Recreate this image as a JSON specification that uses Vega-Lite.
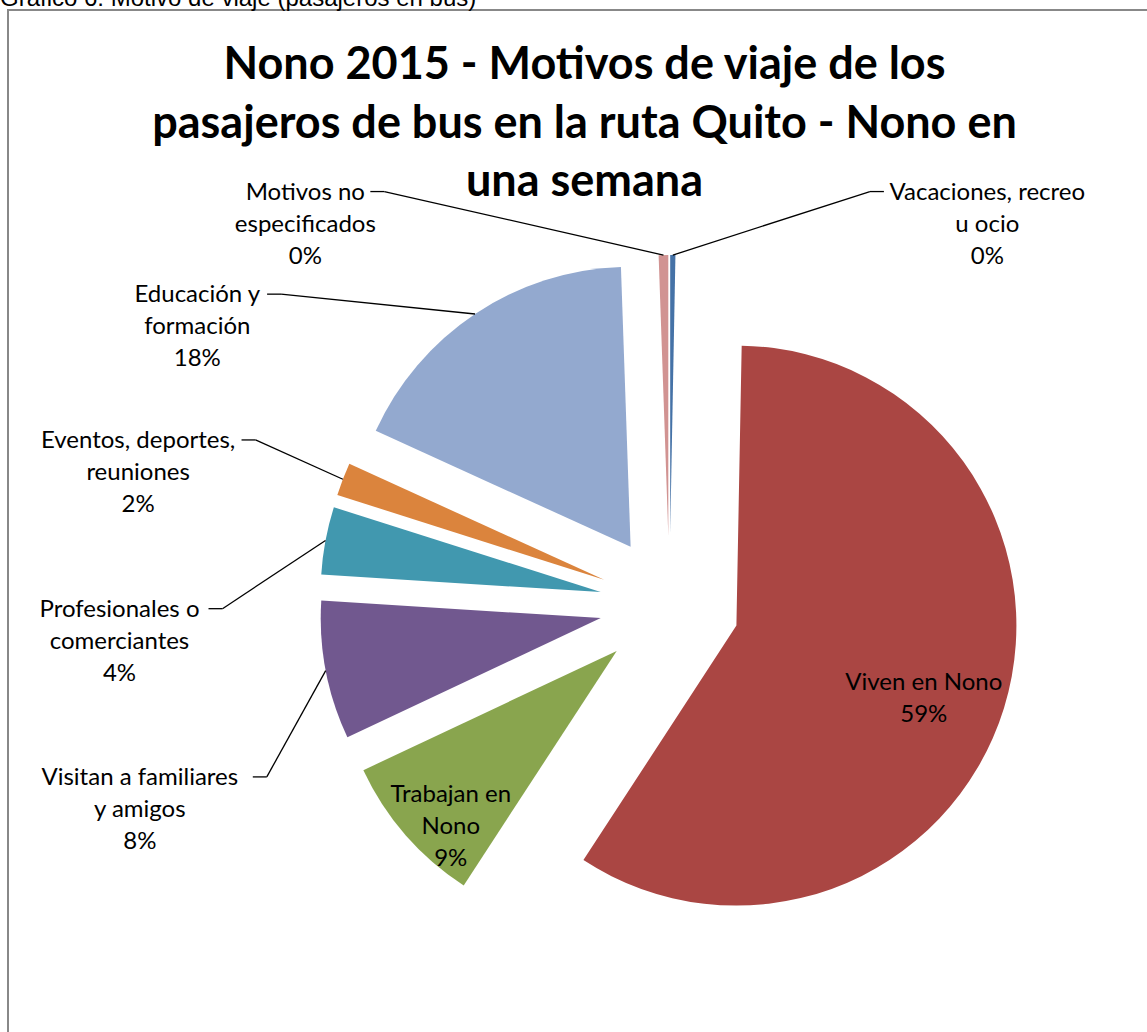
{
  "$schema": "https://vega.github.io/schema/vega-lite/v6.json",
  "width": 1141,
  "height": 1024,
  "autosize": {"type": "none"},
  "padding": {"left": 8, "top": 10, "right": -2, "bottom": -2},
  "background": "white",
  "params": [
    {"name": "cx", "expr": "width/2 + 91"},
    {"name": "cy", "expr": "height/2 + 83"}
  ],
  "title": {
    "text": ["Nono 2015 - Motivos de viaje de los", "pasajeros de bus en la ruta Quito - Nono en", "una semana"],
    "anchor": "middle",
    "frame": "group",
    "offset": -218,
    "dx": 6,
    "font": "Lato",
    "fontSize": 45,
    "fontWeight": "bold",
    "color": "#000000",
    "lineHeight": 58.5
  },
  "data": {
    "values": [
      {"motivo": "Vacaciones, recreo u ocio", "valor": 0.0030, "orden": 1, "etiqueta": "Vacaciones, recreo\nu ocio\n0%"},
      {"motivo": "Viven en Nono", "valor": 0.5890, "orden": 2, "etiqueta": "Viven en Nono\n59%"},
      {"motivo": "Trabajan en Nono", "valor": 0.0880, "orden": 3, "etiqueta": "Trabajan en\nNono\n9%"},
      {"motivo": "Visitan a familiares y amigos", "valor": 0.0800, "orden": 4, "etiqueta": "Visitan  a familiares\ny amigos\n8%"},
      {"motivo": "Profesionales o comerciantes", "valor": 0.0390, "orden": 5, "etiqueta": "Profesionales o\ncomerciantes\n4%"},
      {"motivo": "Eventos, deportes, reuniones", "valor": 0.0190, "orden": 6, "etiqueta": "Eventos, deportes,\nreuniones\n2%"},
      {"motivo": "Educación y formación", "valor": 0.1765, "orden": 7, "etiqueta": "Educación y\nformación\n18%"},
      {"motivo": "Motivos no especificados", "valor": 0.0055, "orden": 8, "etiqueta": "Motivos no\nespecificados\n0%"}
    ]
  },
  "transform": [
    {"window": [{"op": "sum", "field": "valor", "as": "acum"}], "sort": [{"field": "orden", "order": "ascending"}], "frame": [null, 0]},
    {"joinaggregate": [{"op": "count", "as": "n"}]}
  ],
  "layer": [
    {
      "mark": {
        "type": "arc",
        "outerRadius": 280,
        "x": {"expr": "cx + 70*sin(2*PI*(datum.acum - datum.valor/2))"},
        "y": {"expr": "cy - 70*cos(2*PI*(datum.acum - datum.valor/2))"}
      },
      "encoding": {
        "theta": {"field": "valor", "type": "quantitative", "stack": true},
        "order": {"field": "orden", "type": "quantitative"},
        "color": {
          "field": "motivo",
          "type": "nominal",
          "scale": {
            "domain": ["Vacaciones, recreo u ocio", "Viven en Nono", "Trabajan en Nono", "Visitan a familiares y amigos", "Profesionales o comerciantes", "Eventos, deportes, reuniones", "Educación y formación", "Motivos no especificados"],
            "range": ["#4572A7", "#AA4643", "#89A54E", "#71588F", "#4198AF", "#DB843D", "#93A9CF", "#D19392"]
          },
          "legend": {
            "title": "Gráfico 6: Motivo de viaje (pasajeros en bus)",
            "orient": "none",
            "legendX": -8,
            "legendY": -23,
            "padding": 0,
            "titleFont": "Liberation Sans",
            "titleFontSize": 24,
            "titleFontWeight": "normal",
            "titleColor": "#000000",
            "titleLimit": 2000,
            "symbolOpacity": 0,
            "symbolStrokeWidth": 0,
            "symbolSize": 0,
            "labelOpacity": 0,
            "labelExpr": "''",
            "direction": "horizontal"
          }
        }
      }
    },
    {
      "transform": [{"filter": "indexof(['Viven en Nono','Trabajan en Nono'], datum.motivo) < 0"}],
      "mark": {"type": "rule", "color": "#000000", "strokeWidth": 1.3},
      "encoding": {
        "x": {"value": {"expr": "cx + ((datum.acum - datum.valor/2 > 0.5) ? -550 : 480)*sqrt(abs(sin((datum.acum - datum.valor/2 > 0.5) ? (2*PI - 0.4538 - (datum.n - datum.orden)*0.375) : (0.4538 + (datum.orden - 1)*0.375)))) + ((datum.acum - datum.valor/2 > 0.5) ? 1 : -1)*(length(replace(split(datum.etiqueta, '\\n')[0], '  ', ' '))*4.8 + 17)"}},
        "y": {"value": {"expr": "cy - 460*cos((datum.acum - datum.valor/2 > 0.5) ? (2*PI - 0.4538 - (datum.n - datum.orden)*0.375) : (0.4538 + (datum.orden - 1)*0.375))"}},
        "x2": {"value": {"expr": "cx + ((datum.acum - datum.valor/2 > 0.5) ? -550 : 480)*sqrt(abs(sin((datum.acum - datum.valor/2 > 0.5) ? (2*PI - 0.4538 - (datum.n - datum.orden)*0.375) : (0.4538 + (datum.orden - 1)*0.375)))) + ((datum.acum - datum.valor/2 > 0.5) ? 1 : -1)*(length(replace(split(datum.etiqueta, '\\n')[0], '  ', ' '))*4.8 + 31)"}},
        "y2": {"value": {"expr": "cy - 460*cos((datum.acum - datum.valor/2 > 0.5) ? (2*PI - 0.4538 - (datum.n - datum.orden)*0.375) : (0.4538 + (datum.orden - 1)*0.375))"}}
      }
    },
    {
      "transform": [{"filter": "indexof(['Viven en Nono','Trabajan en Nono'], datum.motivo) < 0"}],
      "mark": {"type": "rule", "color": "#000000", "strokeWidth": 1.3},
      "encoding": {
        "x": {"value": {"expr": "cx + ((datum.acum - datum.valor/2 > 0.5) ? -550 : 480)*sqrt(abs(sin((datum.acum - datum.valor/2 > 0.5) ? (2*PI - 0.4538 - (datum.n - datum.orden)*0.375) : (0.4538 + (datum.orden - 1)*0.375)))) + ((datum.acum - datum.valor/2 > 0.5) ? 1 : -1)*(length(replace(split(datum.etiqueta, '\\n')[0], '  ', ' '))*4.8 + 31)"}},
        "y": {"value": {"expr": "cy - 460*cos((datum.acum - datum.valor/2 > 0.5) ? (2*PI - 0.4538 - (datum.n - datum.orden)*0.375) : (0.4538 + (datum.orden - 1)*0.375))"}},
        "x2": {"value": {"expr": "cx + 350*sin(2*PI*(datum.acum - datum.valor/2))"}},
        "y2": {"value": {"expr": "cy - 350*cos(2*PI*(datum.acum - datum.valor/2))"}}
      }
    },
    {
      "transform": [{"filter": "indexof(['Viven en Nono','Trabajan en Nono'], datum.motivo) < 0"}],
      "mark": {
        "type": "text",
        "font": "Lato",
        "fontSize": 24,
        "color": "#000000",
        "lineBreak": "\n",
        "lineHeight": 32,
        "baseline": "top",
        "dy": -11,
        "align": "center",
        "x": {"expr": "cx + ((datum.acum - datum.valor/2 > 0.5) ? -550 : 480)*sqrt(abs(sin((datum.acum - datum.valor/2 > 0.5) ? (2*PI - 0.4538 - (datum.n - datum.orden)*0.375) : (0.4538 + (datum.orden - 1)*0.375))))"},
        "y": {"expr": "cy - 460*cos((datum.acum - datum.valor/2 > 0.5) ? (2*PI - 0.4538 - (datum.n - datum.orden)*0.375) : (0.4538 + (datum.orden - 1)*0.375))"}
      },
      "encoding": {"text": {"field": "etiqueta", "type": "nominal"}}
    },
    {
      "transform": [{"filter": "indexof(['Viven en Nono','Trabajan en Nono'], datum.motivo) >= 0"}],
      "mark": {
        "type": "text",
        "font": "Lato",
        "fontSize": 24,
        "color": "#000000",
        "lineBreak": "\n",
        "lineHeight": 32,
        "align": "center",
        "baseline": "middle",
        "x": {"expr": "cx + (datum.valor > 0.3 ? 266 : 290)*sin(2*PI*(datum.acum - datum.valor/2))"},
        "y": {"expr": "cy - (datum.valor > 0.3 ? 266 : 290)*cos(2*PI*(datum.acum - datum.valor/2))"}
      },
      "encoding": {"text": {"field": "etiqueta", "type": "nominal"}}
    }
  ],
  "config": {
    "view": {"stroke": "#888888", "strokeWidth": 2},
    "font": "Lato"
  }
}
